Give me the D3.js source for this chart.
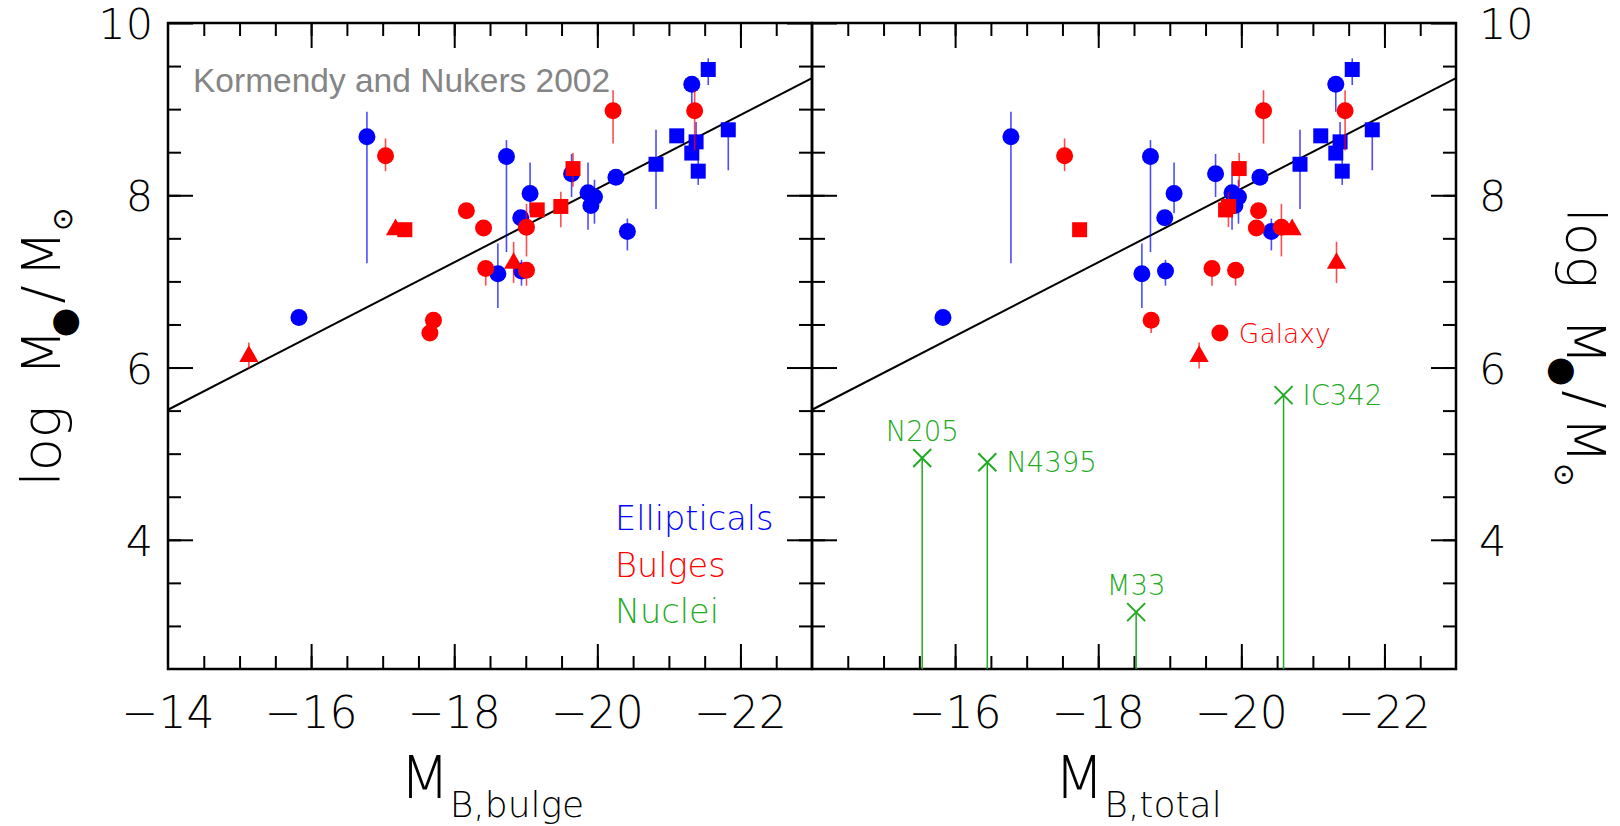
<!DOCTYPE html>
<html>
<head>
<meta charset="utf-8">
<script src="https://cdn.jsdelivr.net/npm/d3@7/dist/d3.min.js"></script>
<style>
  body { margin: 0; background: #fff; }
  svg { display: block; }
  text { font-family: "DejaVu Sans", sans-serif; font-weight: 200; }
</style>
</head>
<body>
<svg id="chart"></svg>
<script>
// black hole mass vs. absolute blue magnitude.
// ellipticals: shape, M_B, log M, error low, error high (same M_B in both panels)
var ellipticals = [
  ['c', -15.83, 6.58, null, null],
  ['c', -16.78, 8.68, 7.21, 8.97],
  ['c', -18.73, 8.45, 7.34, 8.64],
  ['c', -19.06, 8.02, 7.79, 8.38],
  ['c', -18.93, 7.74, null, null],
  ['c', -18.61, 7.09, 6.69, 7.44],
  ['c', -18.94, 7.12, 6.95, 7.25],
  ['c', -19.64, 8.25, 7.98, 8.48],
  ['c', -19.87, 8.03, 7.60, 8.38],
  ['c', -19.96, 7.98, 7.67, 8.18],
  ['c', -19.91, 7.88, null, null],
  ['c', -20.26, 8.21, null, null],
  ['c', -20.42, 7.58, 7.36, 7.73],
  ['s', -20.82, 8.36, 7.84, 8.76],
  ['s', -21.11, 8.69, null, null],
  ['s', -21.38, 8.62, 8.52, 8.85],
  ['s', -21.32, 8.49, null, null],
  ['s', -21.41, 8.28, 8.12, 8.42],
  ['c', -21.32, 9.29, 8.97, 9.29],
  ['s', -21.55, 9.46, 9.28, 9.59],
  ['s', -21.83, 8.76, 8.29, 8.85]
];
// bulges: shape, M_B bulge, M_B total, log M, error low, error high, label
var bulges = [
  ['c', -17.04, -17.53, 8.46, 8.28, 8.66],
  ['t', -17.18, -20.71, 7.60, null, null],
  ['s', -17.31, -17.74, 7.60, null, null],
  ['c', -17.71, -18.74, 6.55, 6.40, 6.55],
  ['c', -17.66, -19.70, 6.40, null, null, 'Galaxy'],
  ['c', -18.17, -20.24, 7.82, null, null],
  ['c', -18.41, -20.21, 7.62, null, null],
  ['s', -19.16, -19.78, 7.83, null, null],
  ['c', -19.01, -20.56, 7.63, 7.29, 7.90],
  ['s', -19.49, -19.82, 7.87, 7.63, 8.04],
  ['s', -19.66, -19.97, 8.31, 8.10, 8.49],
  ['c', -20.22, -20.31, 8.98, 8.60, 9.22],
  ['c', -21.36, -21.45, 8.98, 8.52, 9.22],
  ['c', -18.44, -19.59, 7.15, 6.95, 7.15],
  ['t', -18.83, -21.33, 7.21, 6.98, 7.46],
  ['c', -19.01, -19.92, 7.13, 6.95, 7.13],
  ['t', -15.13, -19.41, 6.13, 5.99, 6.29]
];
// nuclei (right panel only, upper limits): name, M_B total, log M
var nuclei = [
  ['N205', -15.54, 4.95],
  ['N4395', -16.45, 4.90],
  ['M33', -18.53, 3.16],
  ['IC342', -20.59, 5.68]
];
var fitLine = [[-14, 5.51], [-23, 9.36]];
var xTicks = [-14, -16, -18, -20, -22];
var yTicks = [4, 6, 8, 10];
var legendLabels = ['Ellipticals', 'Bulges', 'Nuclei'];
var credit = 'Kormendy and Nukers 2002';

var W = 1620, H = 826, yTop = 23, yBot = 669;
var col = {E: '#0000ff', B: '#ff0000', N: '#22aa22'};
var labelSide = {N205: 'above', N4395: 'right', M33: 'above', IC342: 'right'};
var panels = [
  {x0: 168, x1: 812, idx: 1, labels: xTicks},
  {x0: 812, x1: 1456, idx: 2, labels: xTicks.slice(1)}
];

var svg = d3.select('#chart').attr('width', W).attr('height', H);
var y = d3.scaleLinear().domain([2.5, 10]).range([yBot, yTop]);
var minorX = d3.range(-14.5, -23, -0.5), majorX = d3.range(-16, -23, -2);
var minorY = d3.range(3, 10, 0.5), majorY = yTicks;

var sym = {
  c: d3.symbol().type(d3.symbolCircle).size(Math.PI * 8.5 * 8.5),
  s: d3.symbol().type(d3.symbolSquare).size(15 * 15),
  t: d3.symbol().type(d3.symbolTriangle).size(160)
};

function ticks(g, axis, tr) {
  var a = g.append('g').attr('transform', tr).call(axis);
  a.select('.domain').remove();
  a.selectAll('line').attr('stroke', '#000').attr('stroke-width', 2);
  a.selectAll('text').remove();
}

panels.forEach(function(p) {
  var x = d3.scaleLinear().domain([-14, -23]).range([p.x0, p.x1]);
  var g = svg.append('g');
  [[minorX, 13], [majorX, 25]].forEach(function(t) {
    ticks(g, d3.axisBottom(x).tickValues(t[0]).tickSize(-t[1]), 'translate(0,' + yBot + ')');
    ticks(g, d3.axisTop(x).tickValues(t[0]).tickSize(-t[1]), 'translate(0,' + yTop + ')');
  });
  [[minorY, 13], [majorY, 25]].forEach(function(t) {
    ticks(g, d3.axisLeft(y).tickValues(t[0]).tickSize(-t[1]), 'translate(' + p.x0 + ',0)');
    ticks(g, d3.axisRight(y).tickValues(t[0]).tickSize(-t[1]), 'translate(' + p.x1 + ',0)');
  });
  g.append('rect').attr('x', p.x0).attr('y', yTop)
    .attr('width', p.x1 - p.x0).attr('height', yBot - yTop)
    .attr('fill', 'none').attr('stroke', '#000').attr('stroke-width', 2.5);

  // x tick labels
  g.selectAll('.xl').data(p.labels).enter().append('text')
    .attr('x', function(d) { return x(d); }).attr('y', 728)
    .attr('text-anchor', 'middle').attr('font-size', 44)
    .text(function(d) { return '\u2212' + Math.abs(d); });

  // fit
  g.append('line')
    .attr('x1', x(fitLine[0][0])).attr('y1', y(fitLine[0][1]))
    .attr('x2', x(fitLine[1][0])).attr('y2', y(fitLine[1][1]))
    .attr('stroke', '#000').attr('stroke-width', 2);

  // nuclei with lines down to the frame
  if (p.idx === 2) {
    var n = g.selectAll('.nuc').data(nuclei).enter().append('g');
    n.append('line')
      .attr('x1', function(d) { return x(d[1]); }).attr('x2', function(d) { return x(d[1]); })
      .attr('y1', function(d) { return y(d[2]); }).attr('y2', yBot)
      .attr('stroke', col.N).attr('stroke-width', 1.5);
    n.append('path')
      .attr('transform', function(d) { return 'translate(' + x(d[1]) + ',' + y(d[2]) + ')'; })
      .attr('d', 'M-9,-9L9,9M-9,9L9,-9')
      .attr('stroke', col.N).attr('stroke-width', 2).attr('fill', 'none');
    n.append('text')
      .attr('x', function(d) { return labelSide[d[0]] === 'above' ? x(d[1]) : x(d[1]) + 19; })
      .attr('y', function(d) { return labelSide[d[0]] === 'above' ? y(d[2]) - 17 : y(d[2]) + 10; })
      .attr('text-anchor', function(d) { return labelSide[d[0]] === 'above' ? 'middle' : 'start'; })
      .attr('font-size', 27.5).attr('fill', col.N)
      .text(function(d) { return d[0]; });
  }

  // ellipticals
  var e = g.append('g');
  e.selectAll('line').data(ellipticals.filter(function(d) { return d[3] !== null; })).enter().append('line')
    .attr('x1', function(d) { return x(d[1]); }).attr('x2', function(d) { return x(d[1]); })
    .attr('y1', function(d) { return y(d[3]); }).attr('y2', function(d) { return y(d[4]); })
    .attr('stroke', col.E).attr('stroke-width', 1.6).attr('stroke-opacity', 0.7);
  e.selectAll('path').data(ellipticals).enter().append('path')
    .attr('transform', function(d) { return 'translate(' + x(d[1]) + ',' + y(d[2]) + ')'; })
    .attr('d', function(d) { return sym[d[0]](); })
    .attr('fill', col.E);

  // bulges
  var b = g.append('g');
  b.selectAll('line').data(bulges.filter(function(d) { return d[4] !== null; })).enter().append('line')
    .attr('x1', function(d) { return x(d[p.idx]); }).attr('x2', function(d) { return x(d[p.idx]); })
    .attr('y1', function(d) { return y(d[4]); }).attr('y2', function(d) { return y(d[5]); })
    .attr('stroke', col.B).attr('stroke-width', 1.6).attr('stroke-opacity', 0.7);
  b.selectAll('path').data(bulges).enter().append('path')
    .attr('transform', function(d) { return 'translate(' + x(d[p.idx]) + ',' + y(d[3]) + ')'; })
    .attr('d', function(d) { return sym[d[0]](); })
    .attr('fill', col.B);
  if (p.idx === 2) {
    b.selectAll('.lab').data(bulges.filter(function(d) { return d[6]; })).enter().append('text')
      .attr('x', function(d) { return x(d[2]) + 19; }).attr('y', function(d) { return y(d[3]) + 10; })
      .attr('font-size', 26.5).attr('fill', col.B)
      .text(function(d) { return d[6]; });
  }
});

// y tick labels on both outer sides
svg.selectAll('.yl').data(yTicks).enter().append('text')
  .attr('x', 153).attr('y', function(d) { return y(d) + 16; })
  .attr('text-anchor', 'end').attr('font-size', 43).text(function(d) { return d; });
svg.selectAll('.yr').data(yTicks).enter().append('text')
  .attr('x', 1479).attr('y', function(d) { return y(d) + 16; })
  .attr('font-size', 43).text(function(d) { return d; });

// credit and legend
svg.append('text').attr('x', 193).attr('y', 92)
  .style('font-family', '"Liberation Sans", Arial, sans-serif').style('font-weight', 400)
  .attr('font-size', 33.5).attr('fill', '#858585').text(credit);
svg.selectAll('.leg').data(legendLabels).enter().append('text')
  .attr('x', 615).attr('y', function(d, i) { return 530 + i * 46.5; })
  .attr('font-size', 33.5)
  .attr('fill', function(d, i) { return [col.E, col.B, col.N][i]; })
  .text(function(d) { return d; });

// axis titles
function xTitle(cx, sub) {
  var t = svg.append('text').attr('x', cx).attr('y', 798).attr('text-anchor', 'middle');
  t.append('tspan').attr('font-size', 58).text('M');
  t.append('tspan').attr('font-size', 36).attr('dy', 19).text(sub);
}
xTitle(492, 'B,bulge');
xTitle(1138, 'B,total');

function yTitle(bx, rot) {
  var t = svg.append('text')
    .attr('transform', 'translate(' + bx + ',347) rotate(' + rot + ')')
    .attr('text-anchor', 'middle').attr('font-size', 54);
  t.append('tspan').text('log');
  t.append('tspan').attr('dx', 30).text('M');
  t.append('tspan').attr('font-size', 34).style('font-weight', 400)
    .attr('dx', -8).attr('dy', 15).text('\u25CF');
  t.append('tspan').attr('dx', 4).attr('dy', -15).text('/');
  t.append('tspan').attr('dx', 8).text('M');
  t.append('tspan').attr('font-size', 28).attr('dy', 12).text('\u2299');
}
yTitle(60, -90);
yTitle(1567, 90);
</script>
</body>
</html>
